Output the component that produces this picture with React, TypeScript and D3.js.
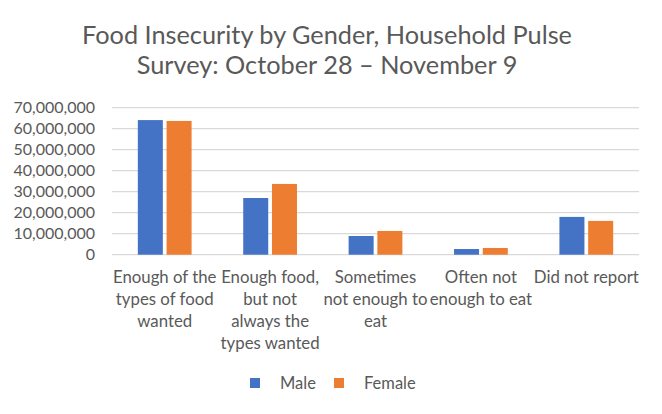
import React from "react";
import * as d3 from "d3";

const categories = [
  "Enough of the types of food wanted",
  "Enough food, but not always the types wanted",
  "Sometimes not enough to eat",
  "Often not enough to eat",
  "Did not report",
];
const categoryLines = [
  ["Enough of the", "types of food", "wanted"],
  ["Enough food,", "but not", "always the", "types wanted"],
  ["Sometimes", "not enough to", "eat"],
  ["Often not", "enough to eat"],
  ["Did not report"],
];
const seriesNames = ["Male", "Female"];
const maleValues = [64100000, 27000000, 8900000, 2700000, 18000000];
const femaleValues = [63700000, 33700000, 11300000, 3200000, 16100000];
const yTicks = [0, 10000000, 20000000, 30000000, 40000000, 50000000, 60000000, 70000000];
const titleLines = ["Food Insecurity by Gender, Household Pulse", "Survey: October 28 \u2013 November 9"];

const colors = ["#4472C4", "#ED7D31"];
const textColor = "#595959";
const FONT = "Lato, 'Open Sans', sans-serif";

export default function App() {
  const W = 662, H = 414;
  const left = 112, right = 639, top = 107.7, bottom = 254.7;
  const x0 = d3.scaleBand<string>().domain(categories).range([left, right]).padding(0);
  const groupW = x0.step() * 0.51;
  const x1 = d3.scaleBand<string>().domain(seriesNames).range([0, groupW]).paddingInner(0.13);
  const y = d3.scaleLinear().domain([0, 70000000]).range([bottom, top]);
  const fmt = d3.format(",");
  const values = [maleValues, femaleValues];

  return (
    <svg width={W} height={H} style={{ position: "absolute", left: 0, top: 0, background: "#fff" }} fontFamily={FONT}>
      <rect x={0} y={0} width={W} height={H} fill="#fff" />
      {titleLines.map((t, i) => (
        <text key={i} x={327} y={44 + i * 29.5} textAnchor="middle" fontSize={25.3} fill={textColor}>{t}</text>
      ))}
      {yTicks.map((t) => (
        <g key={t}>
          <line x1={left} x2={right} y1={y(t)} y2={y(t)} stroke="#d9d9d9" strokeWidth={1.3} />
          <text x={95} y={y(t)} dy="0.35em" textAnchor="end" fontSize={16} fill={textColor}>{fmt(t)}</text>
        </g>
      ))}
      {categories.map((c, ci) => {
        const gx = (x0(c) as number) + (x0.step() - groupW) / 2;
        return (
          <g key={c}>
            {seriesNames.map((s, si) => (
              <rect key={s} x={gx + (x1(s) as number)} width={x1.bandwidth()} y={y(values[si][ci])}
                height={bottom - y(values[si][ci])} fill={colors[si]} />
            ))}
            {categoryLines[ci].map((ln, li) => (
              <text key={li} x={(x0(c) as number) + x0.step() / 2} y={277.5 + li * 22} dy="0.35em"
                textAnchor="middle" fontSize={16.8} fill={textColor}>{ln}</text>
            ))}
          </g>
        );
      })}
      {seriesNames.map((s, si) => {
        const sx = [250, 334][si];
        return (
          <g key={s}>
            <rect x={sx} y={378} width={10} height={10} fill={colors[si]} />
            <text x={sx + 30} y={383} dy="0.35em" fontSize={16.5} fill={textColor}>{s}</text>
          </g>
        );
      })}
    </svg>
  );
}
